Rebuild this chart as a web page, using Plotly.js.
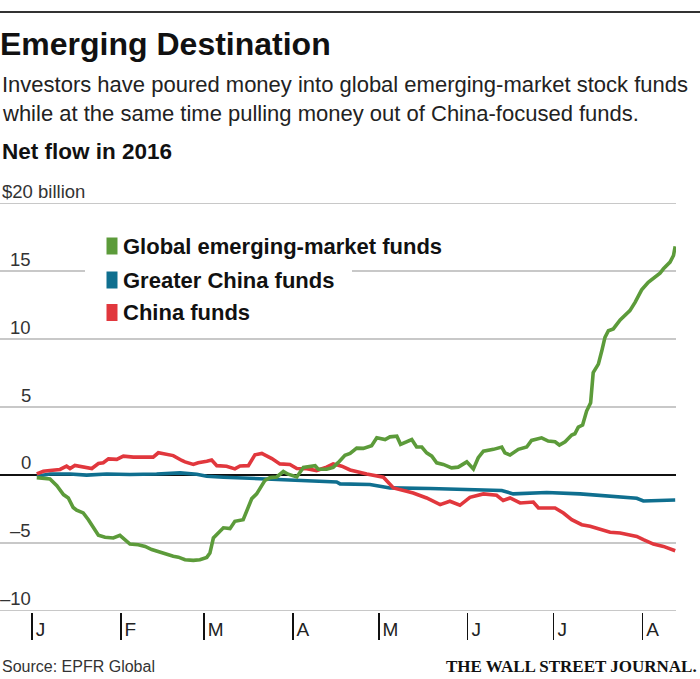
<!DOCTYPE html>
<html>
<head>
<meta charset="utf-8">
<script src="https://cdn.plot.ly/plotly-3.0.1.min.js"></script>
<style>
  html, body { margin: 0; padding: 0; background: #fff; }
  #chart { width: 700px; height: 679px; }
</style>
</head>
<body>
<div id="chart"></div>
<script>
// ---- Data ----
// Days are counted from 1 January 2016
const monthLabels = ['J', 'F', 'M', 'A', 'M', 'J', 'J', 'A'];
const monthStarts = ['2016-01-01', '2016-02-01', '2016-03-01', '2016-04-01',
                     '2016-05-01', '2016-06-01', '2016-07-01', '2016-08-01'];
const yTickValues = [20, 15, 10, 5, 0, -5, -10];
const yTickLabels = ['$20 billion', '15', '10', '5', '0', '–5', '–10'];
const seriesNames = ['Global emerging-market funds', 'Greater China funds', 'China funds'];

const globalDays = [1.7,6.3,8.7,11.0,12.7,14.4,15.6,17.9,19.7,21.4,
  23.2,25.5,28.4,30.7,32.5,34.2,37.1,39.5,41.8,44.7,
  47.0,49.3,51.1,53.4,56.3,58.6,61.0,62.1,63.3,65.0,
  66.8,69.1,70.8,73.7,75.5,76.7,78.4,80.2,81.3,83.1,
  85.4,87.7,89.4,92.4,94.7,98.8,99.9,102.8,105.1,106.9,
  109.2,111.0,113.3,115.6,118.5,120.3,123.2,124.9,127.3,128.6,
  132.5,134.2,136.0,137.7,139.5,141.2,143.5,146.4,148.7,151.7,
  152.8,154.0,155.7,157.5,161.0,163.9,165.0,166.8,169.7,172.6,
  174.3,177.8,180.1,182.5,184.0,186.0,188.3,189.4,190.6,192.1,
  193.5,194.9,195.8,197.6,198.8,199.9,201.1,202.8,205.2,208.6,
  210.4,212.7,215.0,217.4,219.1,220.3,222.6,223.8,224.4];
const globalValues = [-0.2,-0.3,-0.8,-1.45,-1.7,-2.4,-2.6,-2.8,-3.3,-3.9,
  -4.45,-4.6,-4.65,-4.45,-4.8,-5.1,-5.15,-5.27,-5.5,-5.7,
  -5.9,-6.0,-6.06,-6.25,-6.3,-6.25,-6.08,-5.76,-4.65,-4.28,
  -3.9,-3.96,-3.42,-3.3,-2.3,-1.75,-1.4,-0.7,-0.4,-0.2,
  -0.15,0.25,0.05,-0.15,0.55,0.67,0.42,0.42,0.55,0.92,
  1.45,1.58,1.97,1.95,2.15,2.73,2.6,2.8,2.85,2.25,
  2.6,2.05,2.05,1.62,1.38,0.89,0.77,0.52,0.57,0.96,
  0.72,0.44,1.26,1.75,1.88,2.05,1.62,1.46,1.88,2.05,
  2.54,2.73,2.49,2.44,2.2,2.44,2.93,3.03,3.52,3.67,
  4.7,5.32,7.54,8.16,9.14,10.13,10.62,10.75,11.41,12.1,
  12.71,13.63,14.19,14.56,14.86,15.18,15.67,16.16,16.83];

const greaterChinaDays = [1.7,6.3,13.3,19.1,26.1,34.2,43.5,51.7,57.5,61.0,
  66.8,78.4,90.0,95.9,106.3,107.5,117.9,121.4,124.9,138.9,
  150.5,163.9,167.9,179.6,191.2,200.5,205.2,208.6,211.0,213.3,
  216.8,220.3,224.4];
const greaterChinaValues = [-0.1,0.07,0.07,-0.02,0.07,0.03,0.07,0.15,0.05,-0.1,
  -0.17,-0.27,-0.41,-0.46,-0.52,-0.66,-0.71,-0.84,-0.96,-1.0,
  -1.08,-1.15,-1.4,-1.3,-1.4,-1.55,-1.57,-1.65,-1.72,-1.92,
  -1.89,-1.89,-1.85];

const chinaDays = [1.7,4.0,6.3,9.8,12.1,13.3,15.0,17.9,20.9,23.2,
  24.9,26.7,29.6,31.9,35.4,38.9,42.3,44.1,47.0,49.3,
  52.3,53.4,56.3,58.0,61.0,62.7,64.5,67.9,70.8,72.6,
  75.5,77.8,80.2,83.7,86.5,90.0,92.4,95.9,99.3,102.8,
  105.1,108.1,111.0,113.3,116.8,122.6,126.1,130.7,133.0,137.7,
  142.4,145.8,149.3,152.8,157.5,162.1,164.4,166.8,170.3,174.9,
  176.7,182.5,185.4,188.3,191.8,194.7,198.2,201.7,205.2,208.6,
  211.0,213.3,216.8,220.3,224.4];
const chinaValues = [0.07,0.27,0.32,0.40,0.64,0.47,0.69,0.57,0.47,0.84,
  0.89,1.18,1.14,1.38,1.31,1.31,1.31,1.63,1.51,1.42,
  1.06,0.96,0.77,0.89,1.0,1.09,0.68,0.64,0.44,0.66,
  0.68,1.48,1.58,1.2,0.81,0.77,0.47,0.45,0.32,0.57,
  0.81,0.64,0.36,0.27,0.07,-0.17,-0.96,-1.2,-1.33,-1.70,
  -2.19,-1.94,-2.24,-1.65,-1.40,-1.50,-1.89,-1.70,-2.07,-2.00,
  -2.44,-2.44,-2.81,-3.3,-3.67,-3.79,-3.99,-4.23,-4.28,-4.40,
  -4.53,-4.77,-5.10,-5.27,-5.59];

// ---- Helpers ----
const BASE = Date.UTC(2016, 0, 1);
function dayToDate(d) {
  return new Date(BASE + d * 86400000).toISOString().replace('T', ' ').slice(0, 19);
}

const W = 700, H = 679;
const M = { l: 0, r: 24, t: 202, b: 67 };
const PW = W - M.l - M.r, PH = H - M.t - M.b;
const px2x = px => (px - M.l) / PW;
const px2y = py => (H - M.b - py) / PH;

const colors = { green: '#5c9b3a', blue: '#0f6f8f', red: '#e1373d' };
const SANS = 'Liberation Sans, Arial, sans-serif';

// ---- Traces ----
const traces = [
  { x: greaterChinaDays.map(dayToDate), y: greaterChinaValues, name: seriesNames[1],
    type: 'scatter', mode: 'lines', line: { color: colors.blue, width: 3.6 } },
  { x: chinaDays.map(dayToDate), y: chinaValues, name: seriesNames[2],
    type: 'scatter', mode: 'lines', line: { color: colors.red, width: 3.6 } },
  { x: globalDays.map(dayToDate), y: globalValues, name: seriesNames[0],
    type: 'scatter', mode: 'lines', line: { color: colors.green, width: 3.6 } }
];

// ---- Annotations ----
const annotations = [];
yTickValues.forEach((v, i) => {
  annotations.push({
    xref: 'paper', yref: 'y', x: i === 0 ? 0 : px2x(33), y: v,
    xanchor: i === 0 ? 'left' : 'right', yanchor: 'middle', yshift: 12,
    text: yTickLabels[i], showarrow: false,
    font: { family: SANS, size: 18.5, color: '#333' }
  });
});

const legendRows = [246, 280, 312.5];
const legendColors = [colors.green, colors.blue, colors.red];
const shapes = [
  // top rule
  { type: 'line', xref: 'paper', yref: 'paper', x0: 0, x1: px2x(700), y0: px2y(12), y1: px2y(12),
    line: { color: '#333', width: 2 } },
  // white backing behind the legend (interrupts the 15 gridline)
  { type: 'rect', xref: 'paper', yref: 'paper', layer: 'above',
    x0: px2x(85), x1: px2x(352), y0: px2y(262), y1: px2y(296),
    fillcolor: '#fff', line: { width: 0 } }
];
legendRows.forEach((cy, i) => {
  shapes.push({ type: 'rect', xref: 'paper', yref: 'paper', layer: 'above',
    x0: px2x(106.5), x1: px2x(117.5), y0: px2y(cy - 8.5), y1: px2y(cy + 8.5),
    fillcolor: legendColors[i], line: { width: 0 } });
  annotations.push({ xref: 'paper', yref: 'paper', x: px2x(121), y: px2y(cy),
    xanchor: 'left', yanchor: 'middle', showarrow: false,
    text: '<b>' + seriesNames[i] + '</b>',
    font: { family: SANS, size: 22, color: '#111' } });
});

annotations.push(
  { xref: 'paper', yref: 'paper', x: 0, y: px2y(84.5), xanchor: 'left', yanchor: 'middle',
    showarrow: false, text: 'Investors have poured money into global emerging-market stock funds',
    font: { family: SANS, size: 22, color: '#222' } },
  { xref: 'paper', yref: 'paper', x: 0, y: px2y(113.5), xanchor: 'left', yanchor: 'middle',
    showarrow: false, text: 'while at the same time pulling money out of China-focused funds.',
    font: { family: SANS, size: 22, color: '#222' } },
  { xref: 'paper', yref: 'paper', x: 0, y: px2y(152), xanchor: 'left', yanchor: 'middle',
    showarrow: false, text: '<b>Net flow in 2016</b>',
    font: { family: SANS, size: 22.5, color: '#111' } },
  { xref: 'paper', yref: 'paper', x: 0, y: px2y(666), xanchor: 'left', yanchor: 'middle',
    showarrow: false, text: 'Source: EPFR Global',
    font: { family: SANS, size: 16, color: '#333' } },
  { xref: 'paper', yref: 'paper', x: px2x(699), y: px2y(666), xanchor: 'right', yanchor: 'middle',
    showarrow: false, text: '<b>THE WALL STREET JOURNAL.</b>',
    font: { family: 'Liberation Serif, Times New Roman, serif', size: 17, color: '#111' } }
);

const layout = {
  width: W, height: H,
  margin: M,
  paper_bgcolor: '#fff', plot_bgcolor: '#fff',
  showlegend: false,
  title: { text: '<b>Emerging Destination</b>', x: 0, xref: 'paper', xanchor: 'left',
           y: 1 - 44 / H, yref: 'container', yanchor: 'middle', pad: { l: 0, t: 0, b: 0, r: 0 },
           font: { family: SANS, size: 32, color: '#111' } },
  xaxis: {
    type: 'date',
    range: [dayToDate(-11.13), dayToDate(224.68)],
    tickmode: 'array', tickvals: monthStarts, ticktext: monthLabels,
    ticks: 'outside', ticklen: 27, tickwidth: 1.5, tickcolor: '#111',
    ticklabelposition: 'outside right', ticklabelstandoff: 0, ticklabelshift: 3,
    tickfont: { family: SANS, size: 19, color: '#222' },
    showgrid: false, zeroline: false, showline: false, fixedrange: true
  },
  yaxis: {
    range: [-10.1, 20.1],
    tickmode: 'array', tickvals: yTickValues,
    showticklabels: false, ticks: '',
    showgrid: true, gridcolor: '#c8c8c8', gridwidth: 1.5,
    zeroline: true, zerolinecolor: '#111', zerolinewidth: 1.6,
    showline: false, fixedrange: true
  },
  annotations: annotations,
  shapes: shapes
};

Plotly.newPlot('chart', traces, layout, { displayModeBar: false, staticPlot: true });
</script>
</body>
</html>
